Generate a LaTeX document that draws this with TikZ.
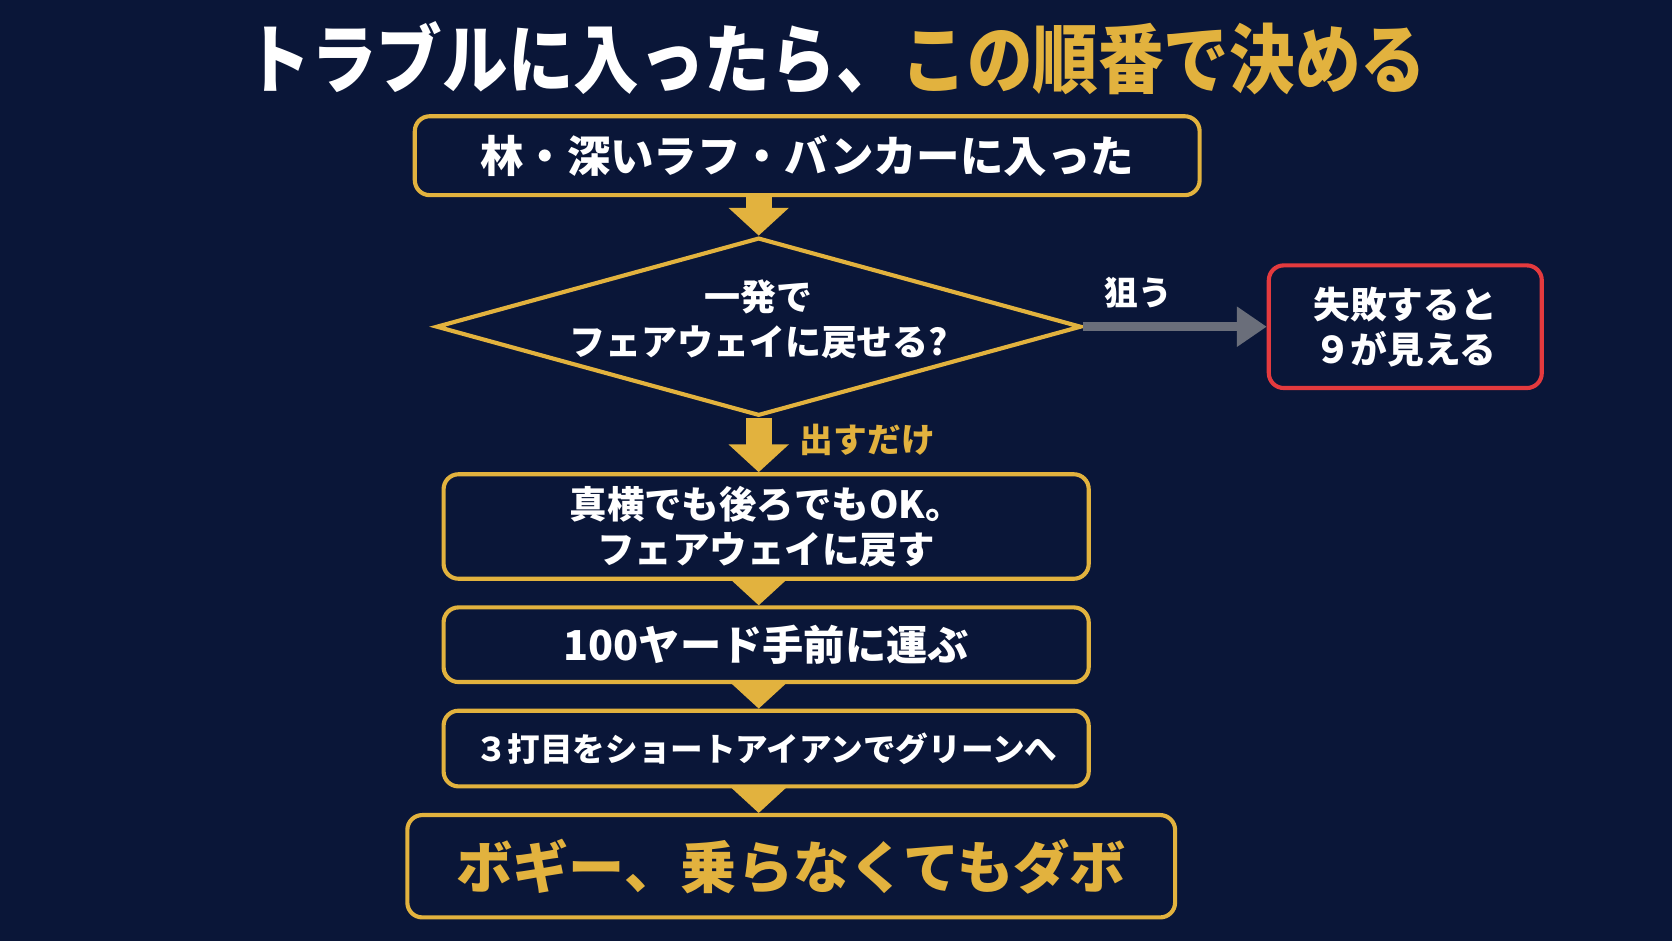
\documentclass[tikz,border=0pt]{standalone}
\usepackage{fontspec}
\setmainfont{Noto Sans CJK JP}
\usetikzlibrary{positioning,shapes.geometric,arrows.meta}
\definecolor{navy}{RGB}{10,22,56}
\definecolor{gold}{RGB}{226,178,62}
\definecolor{alert}{RGB}{228,58,62}
\definecolor{slate}{RGB}{106,110,122}
\tikzset{stepbox/.style={rectangle,rounded corners=0.14cm,draw=gold,line width=1.1pt,fill=navy,text=white,font=\bfseries,align=center,inner sep=0pt},
	decision/.style={diamond,draw=gold,line width=1.1pt,fill=navy,inner sep=0pt},
	flow/.style={draw,gold,line width=0.24cm,-{Triangle[width=0.55cm,length=0.26cm]}},
}

\begin{document}
\begin{tikzpicture}
				\useasboundingbox[fill=navy] (0,0) rectangle (15.68,-8.82);
				\node[text=white,font=\bfseries\fontsize{17.5pt}{20pt}\selectfont] (title) at (7.84,-0.55) {\scalebox{1}[1.15]{トラブルに入ったら、\textcolor{gold}{この順番で決める}}};
				
				\node[stepbox,minimum width=7.36cm,minimum height=0.74cm,font=\bfseries\fontsize{11.6pt}{14pt}\selectfont] (trouble) at (7.57,-1.46) {林・深いラフ・バンカーに入った};
				\node[decision,minimum width=6.05cm,minimum height=1.67cm] (onestroke) [below =0.36cm of trouble,xshift=-0.455cm] {};
				\node[text=white,align=center,font=\bfseries\fontsize{9.6pt}{12.2pt}\selectfont] (question) [yshift=0.07cm] at (onestroke) {一発で\\フェアウェイに戻せる?};
				\node[stepbox,draw=alert,minimum width=2.56cm,minimum height=1.15cm,font=\bfseries\fontsize{9.8pt}{12pt}\selectfont] (miss) [right = 1.72cm of onestroke] {失敗すると\\９が見える};
				\node[stepbox,minimum width=6.05cm,minimum height=0.98cm,font=\bfseries\fontsize{10pt}{12pt}\selectfont] (sideways) [below = 0.51cm of onestroke,xshift=0.07cm] {真横でも後ろでもOK。\\フェアウェイに戻す};
				\node[stepbox,minimum width=6.05cm,minimum height=0.70cm,font=\bfseries\fontsize{11pt}{13pt}\selectfont] (approach) [below = 0.23cm of sideways] {100ヤード手前に運ぶ};
				\node[stepbox,minimum width=6.05cm,minimum height=0.71cm,font=\bfseries\fontsize{8.7pt}{11pt}\selectfont] (third) [below = 0.23cm of approach] {３打目をショートアイアンでグリーンへ};
				\node[stepbox,text=gold,minimum width=7.2cm,minimum height=0.96cm,font=\bfseries\fontsize{15pt}{18pt}\selectfont] (result) [below = 0.23cm of third,xshift=0.235cm] {ボギー、乗らなくてもダボ};
				
				\draw[flow] (trouble.south -| onestroke.north) -- (onestroke.north);
				\draw[flow] (onestroke.south) -- node[pos=0.4,right=0.15cm,text=gold,font=\bfseries\fontsize{9pt}{11pt}\selectfont] {出すだけ} (sideways.north -| onestroke.south);
				\draw[flow] (sideways.south -| onestroke.south) -- (approach.north -| onestroke.south);
				\draw[flow] (approach.south -| onestroke.south) -- (third.north -| onestroke.south);
				\draw[flow] (third.south -| onestroke.south) -- (result.north -| onestroke.south);
				
				\draw[slate,line width=0.08cm,-{Triangle[width=0.36cm,length=0.28cm]}] (onestroke.east) -- node[pos=0.3,above=0.02cm,text=white,font=\bfseries\fontsize{9pt}{11pt}\selectfont] {狙う} (miss.west);
				
			\end{tikzpicture}
\end{document}
